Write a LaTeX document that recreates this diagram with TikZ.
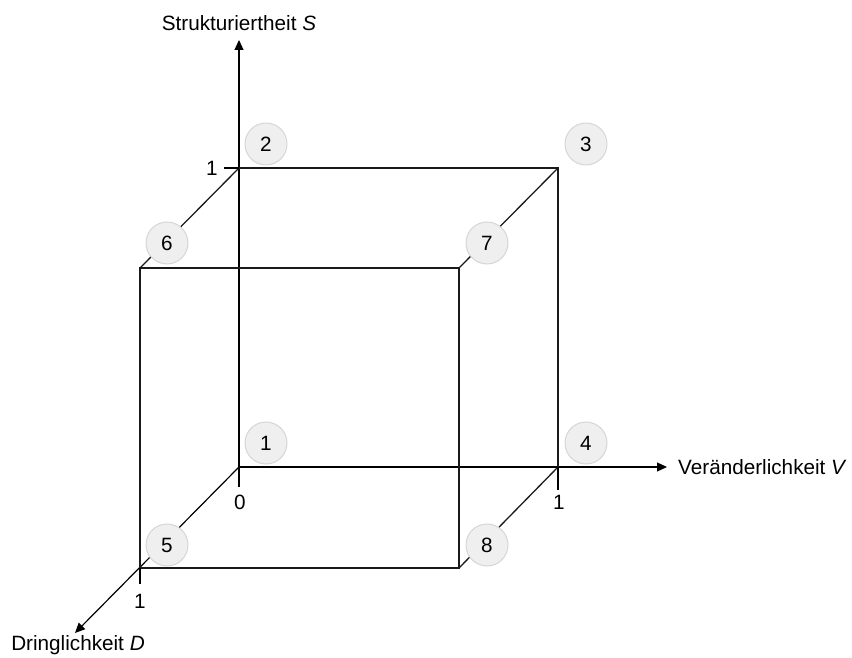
\documentclass[tikz,border=0pt]{standalone}
\usepackage{fontspec}
\setmainfont{Liberation Sans}
\usepackage{tikz}
\usetikzlibrary{arrows.meta,positioning}
\usepackage{xcolor}
\definecolor{edge}{HTML}{1A1A1A}
\definecolor{markfill}{HTML}{EFEFEF}
\definecolor{markdraw}{HTML}{D6D6D6}
\tikzset{
  cubeline/.style={draw=edge,line width=1.3pt},
  axis/.style={-{Triangle[length=10pt,width=9pt]},draw=black,line width=1.2pt},
  tick/.style={draw=black,line width=1.3pt},
  corner/.style={circle,draw=markdraw,fill=markfill,line width=1pt,
    minimum size=42pt,inner sep=0pt,font=\fontsize{20.7}{24}\selectfont},
  axlabel/.style={font=\fontsize{20.7}{24}\selectfont,inner sep=0pt},
  ticklabel/.style={font=\fontsize{20.7}{24}\selectfont,inner sep=0pt}
}
\begin{document}
\begin{tikzpicture}[x=1pt,y=1pt]
  \useasboundingbox (0,0) rectangle (852,657);
  % Ecken des Wuerfels
  \coordinate (o) at (239,190);
  \coordinate (s1) at (239,489);
  \coordinate (sv) at (558,489);
  \coordinate (v1) at (558,190);
  \coordinate (d1) at (140,89);
  \coordinate (ds) at (140,389);
  \coordinate (dsv) at (459,389);
  \coordinate (dv) at (459,89);
  \coordinate (stip) at (239,617);
  \coordinate (vtip) at (667,190);
  \coordinate (dtip) at (75,24);
  % Achsen
  \draw[axis] (o) -- (stip);
  \draw[axis] (o) -- (vtip);
  \draw[axis] (o) -- (dtip);
  \node[axlabel] (ls) at (239,634) {Strukturiertheit \textit{S}};
  \node[axlabel,anchor=west] (lv) at (678,190) {Veränderlichkeit \textit{V}};
  \node[axlabel] (ld) at (78,12) {Dringlichkeit \textit{D}};
  % Kanten
  \draw[cubeline] (s1) -- (sv) -- (v1);
  \draw[cubeline] (ds) rectangle (dv);
  \draw[cubeline] (s1) -- (ds);
  \draw[cubeline] (sv) -- (dsv);
  \draw[cubeline] (v1) -- (dv);
  % Skala
  \draw[tick] (s1) -- ++(-15,0);
  \draw[tick] (o) -- ++(0,-20);
  \draw[tick] (v1) -- ++(0,-23);
  \draw[tick] (d1) -- ++(0,-16);
  \node[ticklabel] (t1) at (212,489) {1};
  \node[ticklabel] (t0) at (240,155) {0};
  \node[ticklabel] (t2) at (559,155) {1};
  \node[ticklabel] (t3) at (140,56) {1};
  % Markierungen
  \node[corner] (c1) at (266,214) {1};
  \node[corner] (c2) at (266,513) {2};
  \node[corner] (c3) at (586,513) {3};
  \node[corner] (c4) at (586,214) {4};
  \node[corner] (c5) at (167,112) {5};
  \node[corner] (c6) at (167,414) {6};
  \node[corner] (c7) at (487,414) {7};
  \node[corner] (c8) at (487,112) {8};
\end{tikzpicture}
\end{document}
